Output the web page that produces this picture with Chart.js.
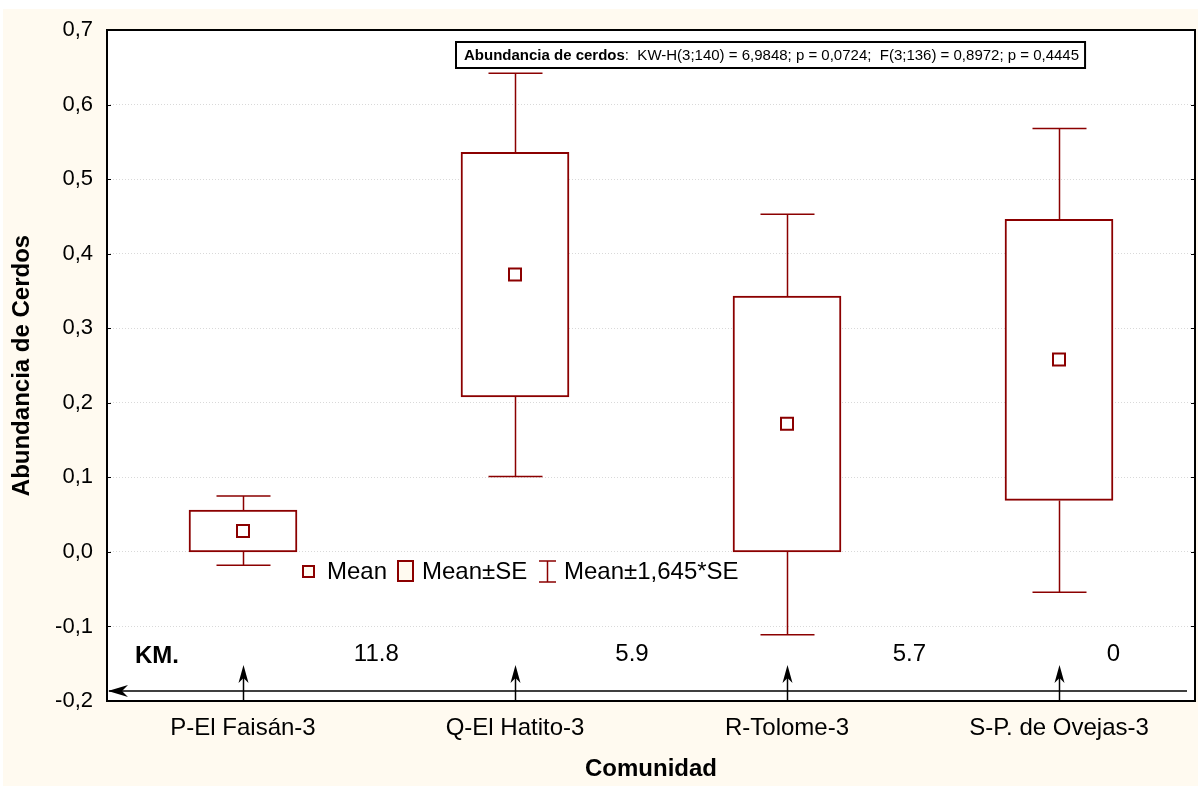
<!DOCTYPE html>
<html>
<head>
<meta charset="utf-8">
<title>Abundancia de Cerdos por Comunidad</title>
<script src="https://cdn.jsdelivr.net/npm/chart.js@4/dist/chart.umd.min.js"></script>
<style>
  html, body { margin: 0; padding: 0; background: #ffffff; }
  #wrap { width: 1198px; height: 786px; }
</style>
</head>
<body>
<div id="wrap"><canvas id="chart" width="1198" height="786"></canvas></div>
<script>
// Communities along the road
const categories = ['P-El Faisán-3', 'Q-El Hatito-3', 'R-Tolome-3', 'S-P. de Ovejas-3'];
// Mean pig abundance per community
const means = [0.028, 0.372, 0.172, 0.258];
// Mean ± SE (box)
const seLow = [0.0, 0.208, 0.0, 0.069];
const seHigh = [0.056, 0.536, 0.343, 0.446];
// Mean ± 1,645*SE (whiskers)
const ciLow = [-0.018, 0.101, -0.111, -0.054];
const ciHigh = [0.075, 0.642, 0.453, 0.568];
// Y axis range
const yMin = -0.2, yMax = 0.7, yStep = 0.1;
// Distances (km) between consecutive communities
const kmLabels = ['11.8', '5.9', '5.7', '0'];
const statsTitle = 'Abundancia de cerdos';
const statsBody = ':  KW-H(3;140) = 6,9848; p = 0,0724;  F(3;136) = 0,8972; p = 0,4445';

const RED = '#8B0000';
const CREAM = '#FFFAF0';
const FONT = '"Liberation Sans", Arial, sans-serif';
const PLOT_RIGHT = 1195;

const decorations = {
  id: 'decorations',
  afterLayout(chart) {
    // keep the plot frame flush with the right margin
    const a = chart.chartArea;
    const dx = PLOT_RIGHT - a.right;
    if (dx !== 0) {
      a.right += dx;
      a.width = a.right - a.left;
      const xs = chart.scales.x;
      xs.right += dx;
      xs.width = xs.right - xs.left;
      xs.configure();
    }
  },
  beforeDraw(chart) {
    const { ctx, chartArea: a } = chart;
    ctx.save();
    ctx.fillStyle = CREAM;
    ctx.fillRect(3, 9, chart.width - 3, chart.height - 9);
    ctx.fillStyle = '#ffffff';
    ctx.fillRect(a.left, a.top, a.right - a.left, a.bottom - a.top);
    ctx.restore();
  },
  beforeDatasetsDraw(chart) {
    // whiskers: Mean ± 1,645*SE
    const { ctx } = chart;
    const xs = chart.scales.x, ys = chart.scales.y;
    ctx.save();
    ctx.strokeStyle = RED;
    ctx.lineWidth = 1.5;
    const cap = 27;
    for (let i = 0; i < categories.length; i++) {
      const x = Math.round(xs.getPixelForValue(i)) + 0.5;
      const yLo = ys.getPixelForValue(ciLow[i]);
      const yHi = ys.getPixelForValue(ciHigh[i]);
      const bLo = ys.getPixelForValue(seLow[i]);
      const bHi = ys.getPixelForValue(seHigh[i]);
      ctx.beginPath();
      ctx.moveTo(x, yHi); ctx.lineTo(x, bHi);
      ctx.moveTo(x, bLo); ctx.lineTo(x, yLo);
      ctx.moveTo(x - cap, yHi); ctx.lineTo(x + cap, yHi);
      ctx.moveTo(x - cap, yLo); ctx.lineTo(x + cap, yLo);
      ctx.stroke();
    }
    ctx.restore();
  },
  afterDatasetsDraw(chart) {
    const { ctx, chartArea: a } = chart;
    const xs = chart.scales.x, ys = chart.scales.y;
    ctx.save();

    // plot frame
    ctx.strokeStyle = '#000000';
    ctx.lineWidth = 2;
    ctx.strokeRect(a.left, a.top, a.right - a.left, a.bottom - a.top);

    // inward tick marks on both vertical axes
    ctx.lineWidth = 1;
    ys.ticks.forEach(t => {
      const y = Math.round(ys.getPixelForValue(t.value)) + 0.5;
      ctx.beginPath();
      ctx.moveTo(a.left, y); ctx.lineTo(a.left + 4, y);
      ctx.moveTo(a.right - 4, y); ctx.lineTo(a.right, y);
      ctx.stroke();
    });

    // statistics box
    ctx.font = 'bold 15px ' + FONT;
    const w1 = ctx.measureText(statsTitle).width;
    ctx.font = '15px ' + FONT;
    const w2 = ctx.measureText(statsBody).width;
    const bx = 456, by = 42, bw = w1 + w2 + 14, bh = 26;
    ctx.fillStyle = '#ffffff';
    ctx.fillRect(bx, by, bw, bh);
    ctx.strokeStyle = '#000000';
    ctx.lineWidth = 2;
    ctx.strokeRect(bx, by, bw, bh);
    ctx.fillStyle = '#000000';
    ctx.textBaseline = 'middle';
    ctx.textAlign = 'left';
    ctx.font = 'bold 15px ' + FONT;
    ctx.fillText(statsTitle, bx + 8, by + bh / 2 + 1);
    ctx.font = '15px ' + FONT;
    ctx.fillText(statsBody, bx + 8 + w1, by + bh / 2 + 1);

    // legend
    const ly = 571;
    ctx.font = '24px ' + FONT;
    ctx.lineWidth = 2;
    ctx.strokeStyle = RED;
    ctx.fillStyle = CREAM;
    ctx.fillRect(303, ly - 5, 11, 11);
    ctx.strokeRect(303, ly - 5, 11, 11);
    ctx.fillStyle = '#000000';
    ctx.fillText('Mean', 327, ly + 1);
    ctx.fillStyle = CREAM;
    ctx.fillRect(398, ly - 10, 15, 20);
    ctx.strokeRect(398, ly - 10, 15, 20);
    ctx.fillStyle = '#000000';
    ctx.fillText('Mean±SE', 422, ly + 1);
    ctx.lineWidth = 1.5;
    ctx.beginPath();
    ctx.moveTo(539, ly - 10); ctx.lineTo(556, ly - 10);
    ctx.moveTo(547.5, ly - 10); ctx.lineTo(547.5, ly + 11);
    ctx.moveTo(539, ly + 11); ctx.lineTo(556, ly + 11);
    ctx.stroke();
    ctx.fillText('Mean±1,645*SE', 564, ly + 1);

    // road distances
    const step = xs.getPixelForValue(1) - xs.getPixelForValue(0);
    const x0 = xs.getPixelForValue(0);
    ctx.font = 'bold 24px ' + FONT;
    ctx.textAlign = 'left';
    ctx.fillText('KM.', 135, 656);
    ctx.font = '24px ' + FONT;
    ctx.textAlign = 'center';
    const kmPos = [0.49, 1.43, 2.45, 3.2];
    kmLabels.forEach((k, i) => ctx.fillText(k, x0 + kmPos[i] * step, 654));

    // road line with arrow pointing left
    ctx.strokeStyle = '#000000';
    ctx.fillStyle = '#000000';
    ctx.lineWidth = 1.5;
    const ry = 691;
    ctx.beginPath();
    ctx.moveTo(a.left + 2, ry); ctx.lineTo(a.right - 8, ry);
    ctx.stroke();
    ctx.beginPath();
    ctx.moveTo(a.left + 1, ry);
    ctx.lineTo(a.left + 21, ry - 6);
    ctx.lineTo(a.left + 15, ry);
    ctx.lineTo(a.left + 21, ry + 6);
    ctx.closePath();
    ctx.fill();

    // arrows marking each community on the road
    for (let i = 0; i < categories.length; i++) {
      const x = Math.round(xs.getPixelForValue(i)) + 0.5;
      ctx.beginPath();
      ctx.moveTo(x, a.bottom); ctx.lineTo(x, 672);
      ctx.stroke();
      ctx.beginPath();
      ctx.moveTo(x, 665);
      ctx.lineTo(x - 5, 683);
      ctx.lineTo(x, 678);
      ctx.lineTo(x + 5, 683);
      ctx.closePath();
      ctx.fill();
    }
    ctx.restore();
  }
};

new Chart(document.getElementById('chart'), {
  type: 'bar',
  data: {
    labels: categories,
    datasets: [
      {
        type: 'line',
        label: 'Mean',
        data: means,
        showLine: false,
        pointStyle: 'rect',
        pointRadius: 8.5,
        pointHoverRadius: 8.5,
        pointBorderWidth: 2,
        pointBorderColor: RED,
        pointBackgroundColor: '#ffffff',
        order: 0
      },
      {
        label: 'Mean±SE',
        data: seLow.map((lo, i) => [lo, seHigh[i]]),
        backgroundColor: '#ffffff',
        borderColor: RED,
        borderWidth: 2,
        borderSkipped: false,
        barThickness: 108,
        order: 1
      }
    ]
  },
  options: {
    responsive: false,
    animation: false,
    layout: { padding: { top: 30, left: 3, right: 3, bottom: 0 } },
    plugins: {
      legend: { display: false },
      tooltip: { enabled: false }
    },
    scales: {
      x: {
        grid: { display: false, drawTicks: false },
        border: { display: false },
        ticks: { color: '#000000', padding: 13, maxRotation: 0, font: { family: FONT, size: 24 } },
        title: {
          display: true, text: 'Comunidad', color: '#000000',
          font: { family: FONT, size: 24, weight: 'bold' },
          padding: { top: 0, bottom: 2 }
        },
        afterFit(s) { s.height = 85; }
      },
      y: {
        min: yMin, max: yMax,
        grid: { color: '#d9d9d9', drawTicks: false, lineWidth: 1 },
        border: { display: false, dash: [1, 2] },
        ticks: {
          stepSize: yStep, color: '#000000', padding: 14,
          font: { family: FONT, size: 22 },
          callback: v => (Math.abs(v) < 1e-9 ? 0 : v).toFixed(1).replace('.', ',')
        },
        title: {
          display: true, text: 'Abundancia de Cerdos', color: '#000000',
          font: { family: FONT, size: 24, weight: 'bold' },
          padding: { top: 5, bottom: 0 }
        },
        afterFit(s) { s.width = 104; }
      }
    }
  },
  plugins: [decorations]
});
</script>
</body>
</html>
